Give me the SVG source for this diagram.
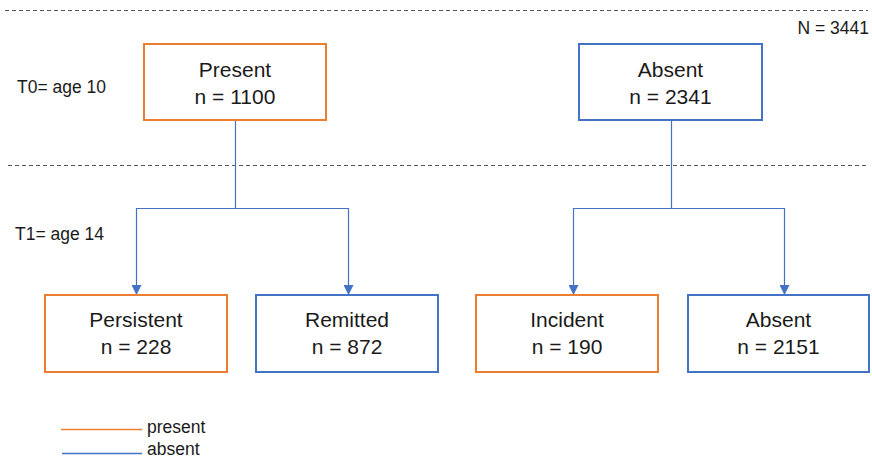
<svg xmlns="http://www.w3.org/2000/svg" width="872" height="459" viewBox="0 0 872 459">
<style>
  .t { font-family: "Liberation Sans", Arial, sans-serif; fill: #1a1a1a; }
  .box { font-size: 21px; text-anchor: middle; }
  .lbl { font-size: 17.5px; }
  .org { fill: #ffffff; stroke: #ED7D31; stroke-width: 2; }
  .blu { fill: #ffffff; stroke: #4472C4; stroke-width: 2; }
  .dash { stroke: #555555; stroke-width: 1; stroke-dasharray: 4 3; fill: none; }
  .conn { stroke: #4472C4; stroke-width: 1.2; fill: none; }
</style>
<defs>
  <marker id="arr" markerWidth="10" markerHeight="10" refX="9" refY="5" orient="auto" markerUnits="userSpaceOnUse">
    <path d="M0,0 L10,5 L0,10 Z" fill="#4472C4"/>
  </marker>
</defs>
<rect width="872" height="459" fill="#ffffff"/>
<line class="dash" x1="5" y1="10.5" x2="868" y2="10.5"/>
<line class="dash" x1="8" y1="165.5" x2="868" y2="165.5"/>
<text class="t" x="869" y="34" font-size="17.5" text-anchor="end">N = 3441</text>
<text class="t lbl" x="17" y="93">T0= age 10</text>
<text class="t lbl" x="15" y="240">T1= age 14</text>
<g id="connectors">
  <polyline class="conn" points="235.5,120 235.5,208.5 136.5,208.5 136.5,294" marker-end="url(#arr)"/>
  <polyline class="conn" points="235.5,208.5 348.5,208.5 348.5,294" marker-end="url(#arr)"/>
  <polyline class="conn" points="671.5,120 671.5,208.5 573.5,208.5 573.5,294" marker-end="url(#arr)"/>
  <polyline class="conn" points="671.5,208.5 784.5,208.5 784.5,294" marker-end="url(#arr)"/>
</g>
<g id="present">
  <rect class="org" x="144" y="44" width="182" height="76"/>
  <text class="t box" x="235" y="77">Present</text>
  <text class="t box" x="235" y="104">n = 1100</text>
</g>
<g id="absent-t0">
  <rect class="blu" x="579" y="44" width="183" height="76"/>
  <text class="t box" x="670.5" y="77">Absent</text>
  <text class="t box" x="670.5" y="104">n = 2341</text>
</g>
<g id="persistent">
  <rect class="org" x="45" y="295" width="182" height="77"/>
  <text class="t box" x="136" y="327">Persistent</text>
  <text class="t box" x="136" y="354">n = 228</text>
</g>
<g id="remitted">
  <rect class="blu" x="256" y="295" width="182" height="77"/>
  <text class="t box" x="347" y="327">Remitted</text>
  <text class="t box" x="347" y="354">n = 872</text>
</g>
<g id="incident">
  <rect class="org" x="476" y="295" width="182" height="77"/>
  <text class="t box" x="567" y="327">Incident</text>
  <text class="t box" x="567" y="354">n = 190</text>
</g>
<g id="absent-t1">
  <rect class="blu" x="688" y="295" width="181" height="77"/>
  <text class="t box" x="778.5" y="327">Absent</text>
  <text class="t box" x="778.5" y="354">n = 2151</text>
</g>
<g id="legend">
  <line x1="61" y1="429.5" x2="142" y2="429.5" stroke="#ED7D31" stroke-width="1.5"/>
  <line x1="62" y1="453.5" x2="142" y2="453.5" stroke="#4472C4" stroke-width="1.5"/>
  <text class="t" x="147" y="433" font-size="17.5">present</text>
  <text class="t" x="147" y="455" font-size="17.5">absent</text>
</g>
</svg>
